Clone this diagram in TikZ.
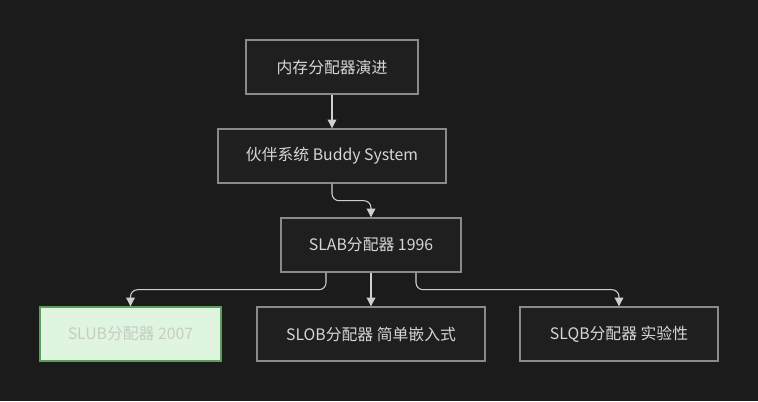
\documentclass[tikz,border=0pt]{standalone}
\usepackage{fontspec}
\setmainfont{Noto Sans CJK SC}
\usepackage{tikz}
\usetikzlibrary{arrows.meta, positioning, calc}

\definecolor{canvas}{HTML}{1B1B1B}
\definecolor{boxfill}{HTML}{1F1F1F}
\definecolor{boxline}{HTML}{8A8A8A}
\definecolor{boxtext}{HTML}{D6D6D6}
\definecolor{linkcol}{HTML}{CFCFCF}
\definecolor{newfill}{HTML}{E0F5E0}
\definecolor{newline}{HTML}{5C9E5C}
\definecolor{newtext}{HTML}{C4CCC4}

\begin{document}
\begin{tikzpicture}[
    stage/.style={draw=boxline, fill=boxfill, text=boxtext, line width=0.8pt, minimum height=1.08cm, inner sep=0pt, font=\fontsize{9}{11}\selectfont},
    current/.style={stage, draw=newline, fill=newfill, text=newtext},
    link/.style={draw=linkcol, line width=0.6pt, rounded corners=4pt, -{Triangle[width=5pt,length=5pt]}},
]
\fill[canvas] (0,0) rectangle (15.16,8.02);
\useasboundingbox (0,0) rectangle (15.16,8.02);
\node[stage, minimum width=3.44cm] (evo) at (6.64,6.68) {内存分配器演进};
\node[stage, minimum width=4.56cm] (buddy) at (6.64,4.90) {伙伴系统 Buddy System};
\node[stage, minimum width=3.60cm] (slab) at (7.42,3.12) {SLAB分配器 1996};
\node[current, minimum width=3.62cm] (slub) at (2.61,1.34) {SLUB分配器 2007};
\node[stage, minimum width=4.56cm] (slob) at (7.42,1.34) {SLOB分配器 简单嵌入式};
\node[stage, minimum width=3.96cm] (slqb) at (12.38,1.34) {SLQB分配器 实验性};
\draw[link] (evo) -- (buddy);
\draw[link] (buddy.south) -- ++(0,-0.34) -| (slab.north);
\draw[link] ([xshift=-0.9cm]slab.south) -- ++(0,-0.34) -| (slub.north);
\draw[link] (slab) -- (slob);
\draw[link] ([xshift=0.9cm]slab.south) -- ++(0,-0.34) -| (slqb.north);
\end{tikzpicture}
\end{document}
